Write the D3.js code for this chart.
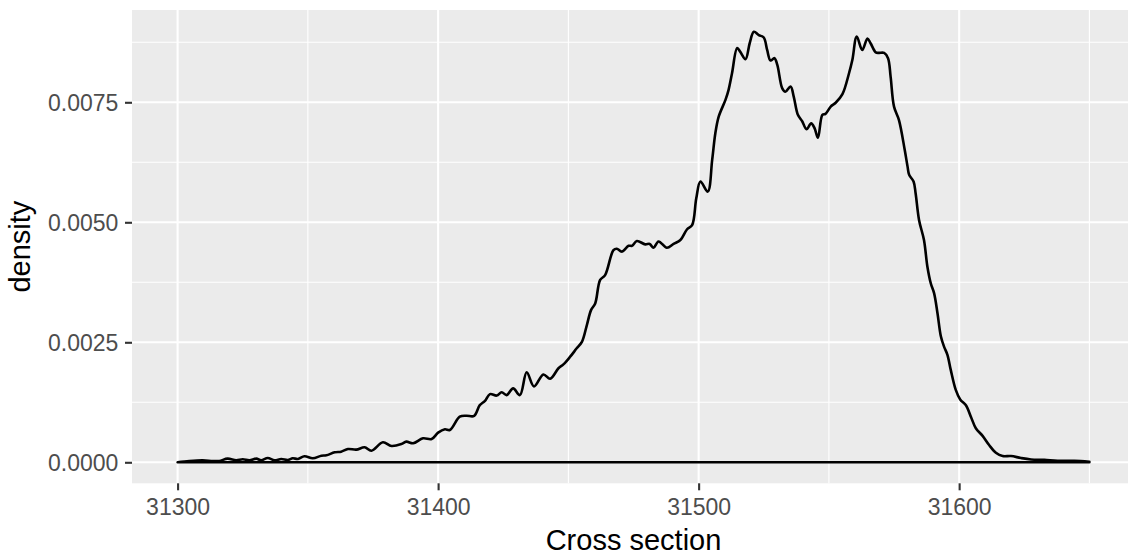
<!DOCTYPE html>
<html>
<head>
<meta charset="utf-8">
<script src="https://cdn.jsdelivr.net/npm/d3@7"></script>
<style>
  html, body { margin: 0; padding: 0; background: #ffffff; }
  svg { display: block; font-family: "Liberation Sans", Arial, sans-serif; }
</style>
</head>
<body>
<svg id="chart" width="1128" height="556"></svg>
<script>
// ---- data ----
const crossSection = [
  31300, 31304.5, 31309.6, 31313.5, 31316, 31319.2, 31322.5, 31325, 31327.6, 31330.2,
  31332.1, 31334.6, 31337.2, 31339.8, 31342.3, 31344.2, 31346.2, 31348.7, 31351.9, 31355.2,
  31357.1, 31360.3, 31362.8, 31365.4, 31368.6, 31371.8, 31374.4, 31378.8,
  31382.1, 31385.9, 31387.8, 31390.4, 31394.2, 31397.5, 31400, 31402.6, 31404.5, 31408.3,
  31410.9, 31413.8, 31416, 31418, 31419.9, 31422.5, 31424.4, 31426.3, 31428.8, 31431.4,
  31434, 31436.8, 31440.4, 31443, 31446.2, 31448.1, 31450.7, 31453.2, 31455.2, 31457.1,
  31458.7, 31460.3, 31462.2, 31464.1, 31467.3, 31468.6, 31470.5, 31473.1, 31474.4, 31476.3,
  31479.5, 31481.2, 31482.7, 31484.6, 31487.8, 31490.4, 31493, 31495.5, 31497.5,
  31499.1, 31500.7, 31503.5, 31505.2, 31506.4, 31507.7, 31510.3, 31511.5, 31512.8, 31514.8,
  31516, 31518, 31519.6, 31521.2, 31523.1, 31525, 31526.3, 31527.6, 31529.1, 31530.2,
  31532.1, 31533.3, 31535.3, 31536.5, 31538.1, 31539.8, 31541.4, 31543.2, 31544.5, 31545.8,
  31547.5, 31548.7, 31550.7, 31552.6, 31555.2, 31557.7, 31559, 31560.7, 31562.8, 31564.8,
  31566, 31568, 31569.2, 31571.2, 31572.7, 31573.7, 31575, 31576.9,
  31579.1, 31580.2, 31580.8, 31582.5, 31583.3, 31584.6, 31586.5, 31587.8, 31589.1, 31590.4,
  31591.7, 31593, 31594.2, 31595.5, 31596.8, 31598.7, 31600.4, 31602.6, 31604.5, 31606.4,
  31609, 31611.5, 31614.1, 31616.7, 31619.9, 31623.7, 31627.6, 31632.7, 31637.8, 31644.2,
  31650
];
const density = [
  0, 0.000027, 0.000042, 0.000027, 0.000027, 0.000076, 0.000042, 0.000062, 0.000042, 0.000076,
  0.000042, 0.00009, 0.000042, 0.000069, 0.000048, 0.000083, 0.00007, 0.000125, 0.000083, 0.000138,
  0.000146, 0.000208, 0.000222, 0.000277, 0.000264, 0.000312, 0.000242, 0.000417,
  0.00034, 0.00038, 0.00043, 0.000396, 0.0005, 0.000485, 0.000617, 0.000687, 0.000673, 0.00095,
  0.00097, 0.000965, 0.00119, 0.00128, 0.00142, 0.00139, 0.00146, 0.0014, 0.00154, 0.0014,
  0.001875, 0.00158, 0.00183, 0.00174, 0.00196, 0.00204, 0.0022, 0.002375, 0.00251, 0.00286,
  0.00317, 0.00331, 0.0038, 0.0039, 0.00442, 0.00445, 0.00439, 0.00451, 0.00451, 0.00461,
  0.00454, 0.00455, 0.00447, 0.0046, 0.00447, 0.00455, 0.00463, 0.00485, 0.00494,
  0.0055, 0.00585, 0.00564, 0.0063, 0.00685, 0.0072, 0.00755, 0.00776, 0.0081, 0.00863,
  0.00855, 0.0084, 0.00873, 0.00897, 0.0089, 0.00885, 0.00859, 0.00837, 0.00842, 0.00828,
  0.00779, 0.00772, 0.00783, 0.00762, 0.00724, 0.0071, 0.00694, 0.00706, 0.00696, 0.00676,
  0.00724, 0.00726, 0.00741, 0.00749, 0.00767, 0.0081, 0.00838, 0.00887, 0.00859, 0.00883,
  0.00873, 0.00854, 0.00853, 0.00853, 0.00842, 0.00803, 0.00741, 0.00713,
  0.00651, 0.00616, 0.00599, 0.00585, 0.0056, 0.00505, 0.00463, 0.00408, 0.00373, 0.00352,
  0.0031, 0.00262, 0.00241, 0.00224, 0.00192, 0.00151, 0.00131, 0.00119, 0.00095, 0.00071,
  0.00055, 0.00036, 0.0002, 0.00013, 0.00013, 0.00009, 0.00006, 0.00005, 0.00003, 0.00003,
  0.00001
];
const xMajorTicks = [31300, 31400, 31500, 31600];
const xMinorTicks = [31350, 31450, 31550, 31650];
const yMajorTicks = [0, 0.0025, 0.005, 0.0075];
const yMinorTicks = [0.00125, 0.00375, 0.00625, 0.00875];
const yTickLabels = ["0.0000", "0.0025", "0.0050", "0.0075"];
const xTitle = "Cross section";
const yTitle = "density";

// ---- layout ----
const svg = d3.select("#chart");
const panel = { left: 132, top: 10, right: 1135, bottom: 483.3 };

const x = d3.scaleLinear().domain([31282.5, 31667.5]).range([panel.left, panel.right]);
const y = d3.scaleLinear().domain([0, 0.0025]).range([462.3, 342.3]);

const W = 1128;

// panel background
svg.append("rect")
  .attr("x", panel.left).attr("y", panel.top)
  .attr("width", W - panel.left).attr("height", panel.bottom - panel.top)
  .attr("fill", "#EBEBEB");

const grid = svg.append("g");
// minor grid
grid.selectAll("line.ymin").data(yMinorTicks).enter().append("line")
  .attr("x1", panel.left).attr("x2", W)
  .attr("y1", d => y(d)).attr("y2", d => y(d))
  .attr("stroke", "#ffffff").attr("stroke-width", 1.1);
grid.selectAll("line.xmin").data(xMinorTicks).enter().append("line")
  .attr("y1", panel.top).attr("y2", panel.bottom)
  .attr("x1", d => x(d)).attr("x2", d => x(d))
  .attr("stroke", "#ffffff").attr("stroke-width", 1.1);
// major grid
grid.selectAll("line.ymaj").data(yMajorTicks).enter().append("line")
  .attr("x1", panel.left).attr("x2", W)
  .attr("y1", d => y(d)).attr("y2", d => y(d))
  .attr("stroke", "#ffffff").attr("stroke-width", 2.1);
grid.selectAll("line.xmaj").data(xMajorTicks).enter().append("line")
  .attr("y1", panel.top).attr("y2", panel.bottom)
  .attr("x1", d => x(d)).attr("x2", d => x(d))
  .attr("stroke", "#ffffff").attr("stroke-width", 2.1);

// density outline
const pts = crossSection.map((c, i) => ({ x: c, d: density[i] }));
const area = d3.area()
  .x(p => x(p.x))
  .y0(y(0))
  .y1(p => y(p.d))
  .curve(d3.curveCatmullRom.alpha(0.5));
svg.append("path")
  .datum(pts)
  .attr("d", area)
  .attr("fill", "none")
  .attr("stroke", "#000000")
  .attr("stroke-width", 2.6)
  .attr("stroke-linejoin", "round");

// x axis
const xAxis = d3.axisBottom(x).tickValues(xMajorTicks).tickSize(7).tickPadding(6)
  .tickFormat(d3.format("d"));
const gx = svg.append("g").attr("transform", `translate(0,${panel.bottom})`).call(xAxis);
gx.select(".domain").remove();
gx.selectAll(".tick line").attr("stroke", "#333333").attr("stroke-width", 2.1);
gx.selectAll(".tick text").attr("fill", "#4D4D4D")
  .style("font-size", "23px").style("font-family", "Liberation Sans, Arial, sans-serif")
  .attr("dy", null).attr("y", 31.7);

// y axis
const yAxis = d3.axisLeft(y).tickValues(yMajorTicks).tickSize(7).tickPadding(6)
  .tickFormat((d, i) => yTickLabels[i]);
const gy = svg.append("g").attr("transform", `translate(${panel.left},0)`).call(yAxis);
gy.select(".domain").remove();
gy.selectAll(".tick line").attr("stroke", "#333333").attr("stroke-width", 2.1);
gy.selectAll(".tick text").attr("fill", "#4D4D4D")
  .style("font-size", "23px").style("font-family", "Liberation Sans, Arial, sans-serif")
  .attr("x", -13.7).attr("dy", "0.36em");

// titles
svg.append("text")
  .attr("x", (panel.left + panel.right) / 2).attr("y", 550)
  .attr("text-anchor", "middle")
  .style("font-size", "29px").attr("fill", "#000000")
  .text(xTitle);
svg.append("text")
  .attr("transform", `translate(30,${(panel.top + panel.bottom) / 2}) rotate(-90)`)
  .attr("text-anchor", "middle")
  .style("font-size", "29px").attr("fill", "#000000")
  .text(yTitle);
</script>
</body>
</html>
